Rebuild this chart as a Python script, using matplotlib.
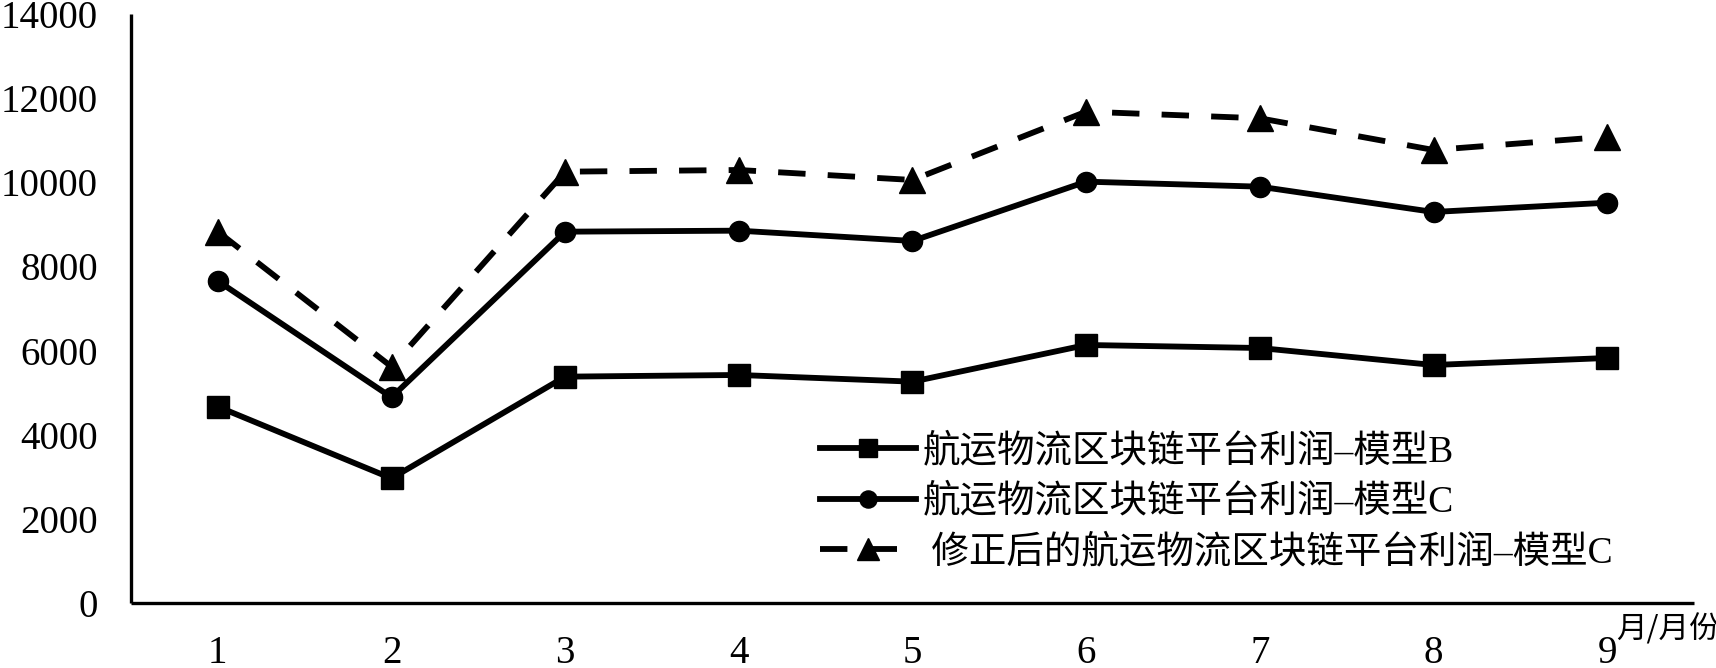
import matplotlib
matplotlib.use("Agg")
import matplotlib.pyplot as plt

plt.rcParams['font.family'] = ['Liberation Serif', 'Noto Sans CJK SC', 'DejaVu Sans']

months = [1, 2, 3, 4, 5, 6, 7, 8, 9]
month_labels = ["1", "2", "3", "4", "5", "6", "7", "8", "9"]
profit_b = [4666, 2963, 5380, 5420, 5261, 6133, 6061, 5657, 5824]
profit_c = [7654, 4889, 8826, 8850, 8605, 10015, 9896, 9294, 9515]
profit_c_corrected = [8826, 5617, 10252, 10292, 10055, 11679, 11521, 10768, 11084]
series_names = ["航运物流区块链平台利润–模型B",
                "航运物流区块链平台利润–模型C",
                " 修正后的航运物流区块链平台利润–模型C"]
y_ticks = [0, 2000, 4000, 6000, 8000, 10000, 12000, 14000]
x_unit = "月/月份"

W, H = 1716, 668
fig = plt.figure(figsize=(W / 100, H / 100), dpi=100)
ax = fig.add_axes([131 / W, 65 / H, (1694 - 131) / W, (603 - 14) / H])

lw = 4.2
ax.plot(months, profit_b, color='black', lw=lw, marker='s', markersize=16,
        label=series_names[0])
ax.plot(months, profit_c, color='black', lw=lw, marker='o', markersize=14.5,
        label=series_names[1])
ax.plot(months, profit_c_corrected, color='black', lw=lw, marker='^', markersize=19,
        linestyle=(0, (4.7, 3.8)), label=series_names[2])

ax.set_xlim(0.5, 9.5)
ax.set_ylim(0, 14000)
ax.set_xticks(months)
ax.set_xticklabels(month_labels)
ax.set_yticks(y_ticks)
ax.set_yticklabels([str(v) for v in y_ticks])
ax.tick_params(axis='both', length=0, labelsize=28)
ax.tick_params(axis='y', pad=24)
ax.tick_params(axis='x', pad=23)

for s in ['top', 'right']:
    ax.spines[s].set_visible(False)
for s in ['left', 'bottom']:
    ax.spines[s].set_linewidth(2.4)
    ax.spines[s].set_color('black')
    ax.spines[s].set_capstyle('butt')

leg = ax.legend(loc='upper left', bbox_to_anchor=(820 / W, 1 - 433 / H),
                bbox_transform=fig.transFigure, frameon=False,
                fontsize=27, handlelength=2.55, handletextpad=0.18,
                labelspacing=0.40, borderpad=0, borderaxespad=0,
                markerscale=0.85)
for t in leg.get_texts():
    t.set_color('black')

fig.text(1616 / W, 30 / H, x_unit, fontsize=22, ha='left', va='baseline',
         family=['Noto Sans CJK SC', 'DejaVu Sans'])

fig.savefig("out.png", dpi=100, facecolor='white')
